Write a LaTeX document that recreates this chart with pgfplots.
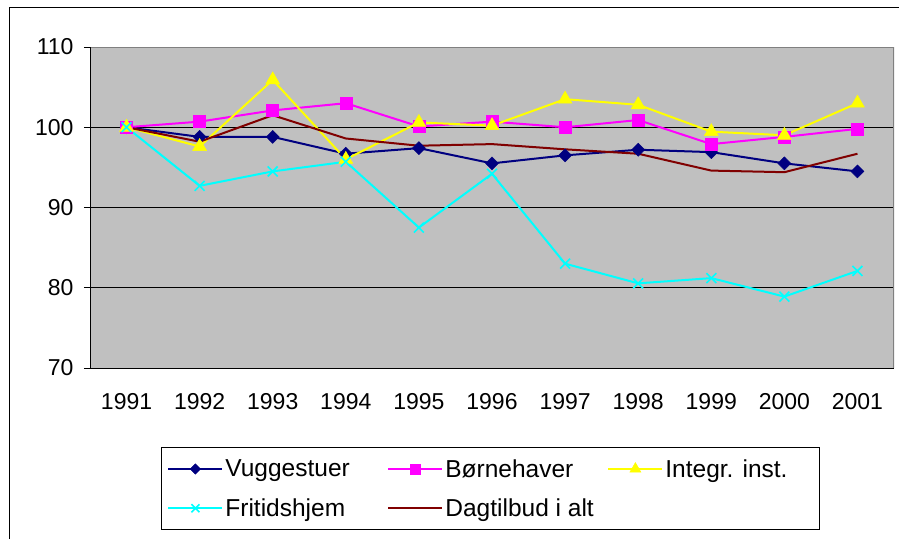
\documentclass[border=0pt]{standalone}
\usepackage{fontspec}
\setmainfont{Liberation Sans}
\usepackage{pgfplots}
\pgfplotsset{compat=1.18}
\definecolor{vug}{RGB}{0,0,128}
\definecolor{bor}{RGB}{255,0,255}
\definecolor{intg}{RGB}{255,255,0}
\definecolor{frit}{RGB}{0,255,255}
\definecolor{dag}{RGB}{128,0,0}
\definecolor{bg}{RGB}{192,192,192}
\definecolor{frame}{RGB}{128,128,128}
\begin{document}
\begin{tikzpicture}[font=\fontsize{21.5}{26}\selectfont]
\path[use as bounding box] (0pt,0pt) rectangle (899pt,-539pt);
\draw[black, line width=1pt] (9.5pt,-539pt) -- (9.5pt,-7.5pt) -- (899pt,-7.5pt);
\begin{axis}[
  at={(90pt,-47pt)}, anchor=north west,
  scale only axis, width=804pt, height=321pt,
  xmin=-0.5, xmax=10.5, ymin=70, ymax=110,
  xtick={0,...,10},
  xticklabels={1991,1992,1993,1994,1995,1996,1997,1998,1999,2000,2001},
  ytick={70,80,90,100,110},
  extra x ticks={-0.5,0.5,1.5,2.5,3.5,4.5,5.5,6.5,7.5,8.5,9.5,10.5},
  extra x tick labels={},
  x tick style={draw=none},
  extra x tick style={major tick length=6pt, grid=none, tick style={black, line width=0.8pt}},
  y tick style={black, line width=0.8pt},
  tick align=outside, major tick length=6pt,
  xtick pos=bottom, ytick pos=left,
  ymajorgrids, grid style={black, line width=0.7pt},
  axis line style={draw=none},
  axis background/.style={fill=bg},
  /pgf/number format/assume math mode=true,
  ticklabel style={font=\fontsize{23}{27}\selectfont},
  yticklabel style={xshift=-7pt},
  xticklabel style={yshift=-16pt},
  legend columns=3,
  legend style={at={(0.498,-0.246)}, anchor=north, draw=black, line width=0.8pt, fill=white,
    font=\fontsize{24.5}{28}\selectfont, inner xsep=6pt, inner ysep=10pt,
    /tikz/every even column/.append style={column sep=0pt},
    row sep=16pt},
  legend cell align=left,
  legend image code/.code={\draw[mark repeat=2,mark phase=2,#1,every mark/.append style={scale=0.8}] plot coordinates {(0pt,0pt) (27pt,0pt) (54pt,0pt)};},
]
\addplot[color=vug, line width=2pt, mark=diamond*, mark size=6.5pt, mark options={fill=vug, xscale=1.33, line width=0.5pt}]
 coordinates {(0,100) (1,98.8) (2,98.8) (3,96.7) (4,97.4) (5,95.5) (6,96.5) (7,97.2) (8,96.9) (9,95.5) (10,94.5)};
\addplot[color=bor, line width=2pt, mark=square*, mark size=6pt, mark options={fill=bor, line width=0.5pt}]
 coordinates {(0,100) (1,100.7) (2,102.1) (3,103.0) (4,100.1) (5,100.7) (6,100.0) (7,100.9) (8,97.9) (9,98.8) (10,99.8)};
\addplot[color=intg, line width=2pt, mark=triangle*, mark size=8pt, mark options={fill=intg, line width=0.5pt}]
 coordinates {(0,100) (1,97.6) (2,105.9) (3,96.0) (4,100.6) (5,100.2) (6,103.5) (7,102.8) (8,99.45) (9,99.0) (10,103.0)};
\addplot[color=frit, line width=2pt, mark=x, mark size=7pt, mark options={line width=1.6pt}]
 coordinates {(0,100) (1,92.7) (2,94.5) (3,95.7) (4,87.5) (5,94.2) (6,83.0) (7,80.55) (8,81.2) (9,78.9) (10,82.1)};
\addplot[color=dag, line width=2pt, no marks]
 coordinates {(0,100) (1,98.2) (2,101.5) (3,98.6) (4,97.7) (5,97.9) (6,97.25) (7,96.7) (8,94.6) (9,94.4) (10,96.7)};
\legend{\makebox[160pt][l]{Vuggestuer},\makebox[160pt][l]{Børnehaver},\makebox[146pt][l]{Integr. inst.},\makebox[160pt][l]{Fritidshjem},\makebox[160pt][l]{Dagtilbud i alt}}
\draw[frame, line width=1.2pt] (rel axis cs:0,1) -- (rel axis cs:1,1) -- (rel axis cs:1,0);
\draw[black, line width=1pt] (rel axis cs:0,1) -- (rel axis cs:0,0) -- (rel axis cs:1,0);
\end{axis}
\end{tikzpicture}
\end{document}
